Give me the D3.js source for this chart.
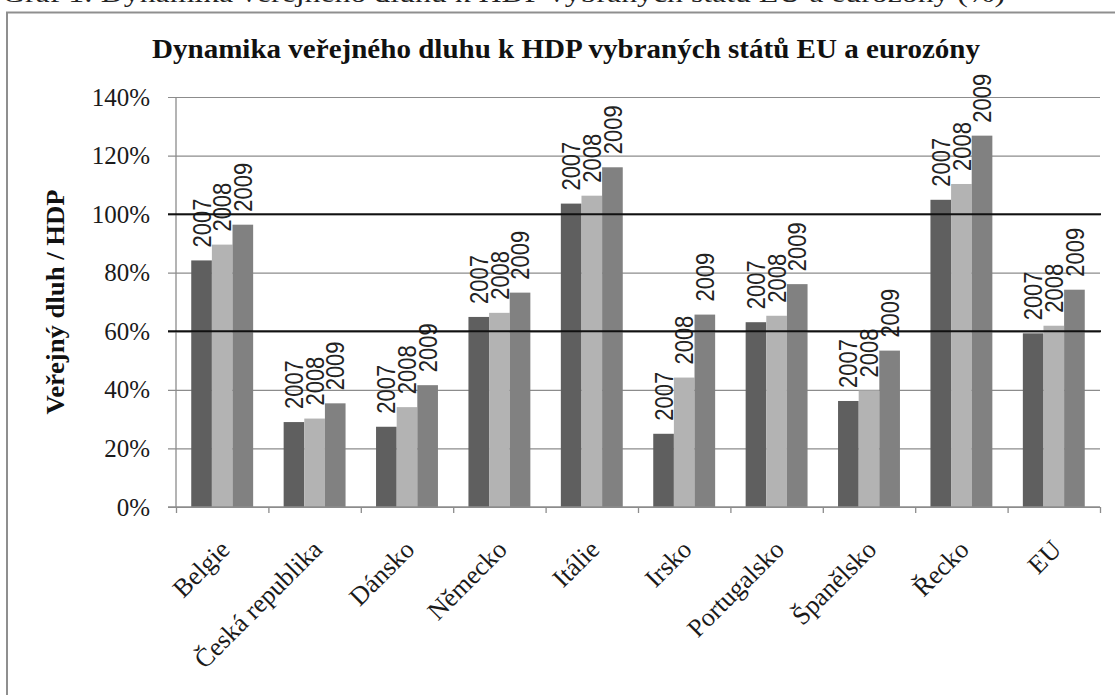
<!DOCTYPE html>
<html>
<head>
<meta charset="utf-8">
<script src="https://cdn.jsdelivr.net/npm/d3@7"></script>
<style>
  body { margin: 0; background: #fff; }
  svg { display: block; }
</style>
</head>
<body>
<div id="chart"></div>
<script>
// data (% of GDP)
var categories = ["Belgie", "Česká republika", "Dánsko", "Německo", "Itálie",
                  "Irsko", "Portugalsko", "Španělsko", "Řecko", "EU"];
var years = ["2007", "2008", "2009"];
var debt2007 = [84.2, 29.0, 27.4, 64.9, 103.6, 25.0, 63.1, 36.2, 104.9, 59.3];
var debt2008 = [89.6, 30.2, 34.1, 66.3, 106.3, 44.2, 65.3, 39.8, 110.3, 61.9];
var debt2009 = [96.4, 35.4, 41.6, 73.2, 116.0, 65.7, 76.1, 53.4, 126.8, 74.2];
var yTicks = [0, 20, 40, 60, 80, 100, 120, 140];
var limitLines = [60, 100];

var series = [debt2007, debt2008, debt2009];
var colors = ["#5f5f5f", "#b3b3b3", "#818181"];

var W = 1115, H = 695;
var plotLeft = 176, plotRight = 1100, plotTop = 97, plotBottom = 507;

var svg = d3.select("#chart").append("svg")
    .attr("width", W)
    .attr("height", H);

// caption above the chart box (cut off at the top)
svg.append("text")
    .attr("x", 2)
    .attr("y", 2)
    .attr("textLength", 1003)
    .attr("lengthAdjust", "spacingAndGlyphs")
    .style("font-family", "'Liberation Serif', 'Times New Roman', serif")
    .style("font-size", "26px")
    .style("fill", "#222")
    .text("Graf 1: Dynamika veřejného dluhu k HDP vybraných států EU a eurozóny (%)");

// chart frame
svg.append("rect")
    .attr("x", 7)
    .attr("y", 12.5)
    .attr("width", 1200)
    .attr("height", 800)
    .attr("fill", "none")
    .attr("stroke", "#8f8f8f")
    .attr("stroke-width", 2);

var x = d3.scaleBand()
    .domain(categories)
    .range([plotLeft, plotRight])
    .paddingInner(0.33)
    .paddingOuter(0.165);

var xSub = d3.scaleBand()
    .domain(years)
    .range([0, x.bandwidth()]);

var xEdge = d3.scaleLinear()
    .domain([0, categories.length])
    .range([plotLeft, plotRight]);

var y = d3.scaleLinear()
    .domain([0, 140])
    .range([plotBottom, plotTop]);

// gridlines + y ticks
var yAxis = svg.append("g")
    .attr("transform", "translate(" + plotLeft + ",0)")
    .call(d3.axisLeft(y)
        .tickValues(yTicks)
        .tickSize(8)
        .tickPadding(18)
        .tickFormat(function (d) { return d + "%"; }));
yAxis.select(".domain").remove();
yAxis.selectAll(".tick line")
    .attr("x1", plotRight - plotLeft)
    .attr("x2", -8)
    .attr("stroke", "#8c8c8c")
    .attr("stroke-width", 1.2);
yAxis.selectAll(".tick text")
    .style("font-family", "'Liberation Serif', 'Times New Roman', serif")
    .style("font-size", "25px")
    .style("fill", "#1a1a1a");

// y axis line
svg.append("line")
    .attr("x1", plotLeft).attr("x2", plotLeft)
    .attr("y1", y(140)).attr("y2", y(0))
    .attr("stroke", "#8c8c8c")
    .attr("stroke-width", 1.3);

// bars
var groups = svg.append("g").selectAll("g")
    .data(categories)
    .enter().append("g")
    .attr("transform", function (d) { return "translate(" + x(d) + ",0)"; });

groups.selectAll("rect")
    .data(function (d, i) {
      return years.map(function (yr, k) { return { year: yr, value: series[k][i], k: k }; });
    })
    .enter().append("rect")
    .attr("x", function (d) { return xSub(d.year); })
    .attr("width", xSub.bandwidth())
    .attr("y", function (d) { return y(d.value); })
    .attr("height", function (d) { return y(0) - y(d.value); })
    .attr("fill", function (d) { return colors[d.k]; });

// year labels above bars
groups.selectAll("text")
    .data(function (d, i) {
      return years.map(function (yr, k) { return { year: yr, value: series[k][i] }; });
    })
    .enter().append("text")
    .attr("transform", function (d) {
      return "translate(" + (xSub(d.year) + xSub.bandwidth() / 2) + "," + (y(d.value) - 13) + ") scale(1.15,1) rotate(-90)";
    })
    .attr("dy", "0.36em")
    .style("font-family", "'Liberation Sans', Arial, sans-serif")
    .style("font-size", "22px")
    .style("fill", "#222")
    .text(function (d) { return d.year; });

// x axis: line + ticks at category edges
var xTicks = svg.append("g")
    .attr("transform", "translate(0," + plotBottom + ")")
    .call(d3.axisBottom(xEdge).ticks(categories.length).tickSize(6).tickFormat(""));
xTicks.select(".domain").remove();
xTicks.selectAll(".tick line").attr("stroke", "#8c8c8c").attr("stroke-width", 1.3);
svg.append("line")
    .attr("x1", plotLeft - 8).attr("x2", plotRight)
    .attr("y1", plotBottom).attr("y2", plotBottom)
    .attr("stroke", "#8c8c8c")
    .attr("stroke-width", 1.5);

// category labels
var xLab = svg.append("g")
    .attr("transform", "translate(0," + plotBottom + ")")
    .call(d3.axisBottom(x).tickSize(0));
xLab.select(".domain").remove();
xLab.selectAll(".tick text")
    .attr("x", 0).attr("y", 0).attr("dy", 0)
    .attr("text-anchor", "end")
    .attr("transform", "translate(9,44) rotate(-45)")
    .style("font-family", "'Liberation Serif', 'Times New Roman', serif")
    .style("font-size", "26px")
    .style("fill", "#1a1a1a");

// black limit lines (60 % and 100 %)
svg.append("g").selectAll("line")
    .data(limitLines)
    .enter().append("line")
    .attr("x1", plotLeft - 8).attr("x2", plotRight + 1)
    .attr("y1", function (d) { return y(d); })
    .attr("y2", function (d) { return y(d); })
    .attr("stroke", "#111")
    .attr("stroke-width", 2);

// title
svg.append("text")
    .attr("x", 152)
    .attr("y", 58)
    .attr("textLength", 828)
    .attr("lengthAdjust", "spacingAndGlyphs")
    .style("font-family", "'Liberation Serif', 'Times New Roman', serif")
    .style("font-size", "28px")
    .style("font-weight", "bold")
    .style("fill", "#111")
    .text("Dynamika veřejného dluhu k HDP vybraných států EU a eurozóny");

// y axis title
svg.append("text")
    .attr("transform", "translate(64,302) rotate(-90)")
    .attr("text-anchor", "middle")
    .attr("textLength", 225)
    .attr("lengthAdjust", "spacingAndGlyphs")
    .style("font-family", "'Liberation Serif', 'Times New Roman', serif")
    .style("font-size", "25px")
    .style("font-weight", "bold")
    .style("fill", "#111")
    .text("Veřejný dluh / HDP");
</script>
</body>
</html>
